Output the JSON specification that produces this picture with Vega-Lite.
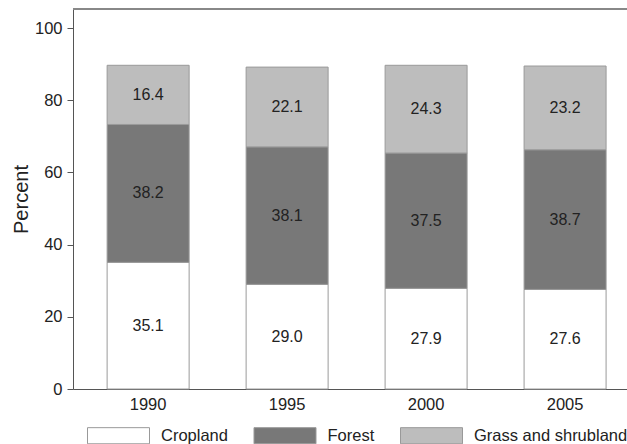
{
  "$schema": "https://vega.github.io/schema/vega-lite/v6.json",
  "width": 554,
  "height": 380,
  "autosize": {"type": "none"},
  "padding": {"left": 73, "top": 9, "right": 0, "bottom": 55},
  "background": "white",
  "config": {
    "view": {"stroke": null},
    "font": "Liberation Sans",
    "axis": {"grid": false, "domainColor": "#555", "tickColor": "#555", "labelColor": "#222", "titleColor": "#222", "labelFontSize": 16.5, "titleFontWeight": "normal"}
  },
  "data": {
    "values": [
      {"year": "1990", "type": "Cropland", "value": 35.1, "ord": 1},
      {"year": "1990", "type": "Forest", "value": 38.2, "ord": 2},
      {"year": "1990", "type": "Grass and shrubland", "value": 16.4, "ord": 3},
      {"year": "1995", "type": "Cropland", "value": 29.0, "ord": 1},
      {"year": "1995", "type": "Forest", "value": 38.1, "ord": 2},
      {"year": "1995", "type": "Grass and shrubland", "value": 22.1, "ord": 3},
      {"year": "2000", "type": "Cropland", "value": 27.9, "ord": 1},
      {"year": "2000", "type": "Forest", "value": 37.5, "ord": 2},
      {"year": "2000", "type": "Grass and shrubland", "value": 24.3, "ord": 3},
      {"year": "2005", "type": "Cropland", "value": 27.6, "ord": 1},
      {"year": "2005", "type": "Forest", "value": 38.7, "ord": 2},
      {"year": "2005", "type": "Grass and shrubland", "value": 23.2, "ord": 3}
    ]
  },
  "transform": [
    {"stack": "value", "groupby": ["year"], "sort": [{"field": "ord"}], "as": ["y0", "y1"]},
    {"calculate": "(datum.y0 + datum.y1) / 2", "as": "mid"}
  ],
  "layer": [
    {
      "mark": {"type": "bar", "stroke": "#9a9a9a", "strokeWidth": 1},
      "encoding": {
        "x": {"field": "year", "type": "nominal", "scale": {"paddingInner": 0.41, "paddingOuter": 0.198, "align": 0.62},
              "axis": {"title": null, "labelAngle": 0, "ticks": false, "labelPadding": 7}},
        "y": {"field": "y0", "type": "quantitative", "scale": {"domain": [0, 105.3], "nice": false},
              "axis": {"title": "Percent", "values": [0, 20, 40, 60, 80, 100], "tickSize": 6, "labelPadding": 5, "titleFontSize": 20, "titlePadding": 3}},
        "y2": {"field": "y1"},
        "color": {"field": "type", "type": "nominal",
                  "scale": {"domain": ["Cropland", "Forest", "Grass and shrubland"], "range": ["#ffffff", "#787878", "#bdbdbd"]},
                  "legend": {"title": null, "orient": "none", "legendX": 14, "legendY": 395, "direction": "horizontal",
                             "symbolType": "M-1,-0.26L1,-0.26L1,0.26L-1,0.26Z", "symbolSize": 3844, "symbolStrokeColor": "#999", "symbolStrokeWidth": 1,
                             "labelFontSize": 16.5, "labelColor": "#222", "labelOffset": 11, "columnPadding": 23.5}}
      }
    },
    {
      "mark": {"type": "text", "fontSize": 16, "color": "#222"},
      "encoding": {
        "x": {"field": "year", "type": "nominal"},
        "y": {"field": "mid", "type": "quantitative"},
        "text": {"field": "value", "type": "quantitative", "format": ".1f"}
      }
    },
    {
      "mark": {"type": "rule", "color": "#888", "strokeWidth": 1.5},
      "encoding": {"y": {"datum": 105.3}}
    }
  ]
}
